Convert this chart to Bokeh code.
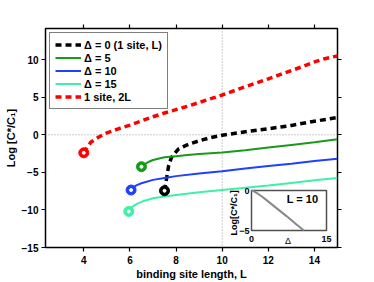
import math
from bokeh.plotting import figure
from bokeh.models import Range1d, LinearAxis, FixedTicker, Span, Legend, LegendItem, CustomJSTickFormatter
from bokeh.core.properties import value
from bokeh.embed import file_html
from bokeh.resources import INLINE

FONT = "Liberation Sans"

# ---- main axes ----
x_ticks = [4, 6, 8, 10, 12, 14]
y_ticks = [-15, -10, -5, 0, 5, 10]
x_label = "binding site length, L"
y_label = "Log [C*/C\u2081]"
ref_x = 10
ref_y = 0

# ---- series (binding site length L, log ratio) ----
L_d0 = [7.5, 7.6, 7.68, 7.8, 8.1, 8.55, 9.0, 9.4, 10, 11, 12, 13, 14, 15]
v_d0 = [-7.45, -5.6, -4.1, -3.0, -1.9, -1.24, -0.8, -0.45, -0.05, 0.4, 0.8, 1.25, 1.8, 2.3]

L_d5 = [6.5, 6.6, 6.7, 6.85, 7.0, 7.5, 8, 8.5, 9, 10, 11, 12, 13, 14, 15]
v_d5 = [-4.25, -4.0, -3.8, -3.55, -3.35, -3.0, -2.85, -2.7, -2.55, -2.35, -2.05, -1.7, -1.35, -1.0, -0.6]

L_d10 = [6.05, 6.15, 6.3, 6.5, 7.0, 7.5, 8, 9, 10, 11, 12, 13, 14, 15]
v_d10 = [-7.35, -6.95, -6.7, -6.45, -6.0, -5.75, -5.5, -5.15, -4.85, -4.5, -4.15, -3.85, -3.5, -3.2]

L_d15 = [5.95, 6.05, 6.3, 6.6, 7.0, 7.5, 8, 9, 10, 11, 12, 13, 14, 15]
v_d15 = [-10.2, -9.7, -9.2, -8.8, -8.45, -8.2, -8.0, -7.65, -7.35, -7.05, -6.75, -6.4, -6.05, -5.75]

L_2L = [4, 4.3, 4.65, 5, 5.5, 6, 6.5, 7, 7.5, 8, 8.5, 9, 10, 11, 12, 12.5, 13.5, 13.95, 14.4, 15]
v_2L = [-2.4, -1.0, -0.3, 0.25, 0.8, 1.3, 1.85, 2.4, 2.9, 3.35, 3.8, 4.3, 5.3, 6.4, 7.45, 8.0, 9.1, 9.65, 10.1, 10.5]

labels = ["\u0394 = 0 (1 site, L)", "\u0394 = 5", "\u0394 = 10", "\u0394 = 15", "1 site, 2L"]
colors = ["black", "#1a9a1a", "#2040ff", "#40f0a8", "#ff0000"]
dashed = [True, False, False, False, True]
xs = [L_d0, L_d5, L_d10, L_d15, L_2L]
ys = [v_d0, v_d5, v_d10, v_d15, v_2L]

# ---- inset (L = 10) ----
inset_title = "L = 10"
inset_delta = [0, 0.5, 1, 1.5, 2, 3, 5, 7, 9, 10.5]
inset_val = [0, -0.1, -0.3, -0.5, -0.72, -1.2, -2.2, -3.2, -4.25, -5.0]
inset_xticks = [0, 15]
inset_yticks = [0, -5]
inset_xlabel = "\u0394"
inset_ylabel = "Log[C*/C\u2081]"

p = figure(width=374, height=282, x_range=Range1d(2.34, 15), y_range=Range1d(-15, 14.15),
           output_backend="svg", toolbar_location=None,
           min_border_left=45, min_border_right=37, min_border_top=28, min_border_bottom=35,
           x_axis_label=x_label, y_axis_label=y_label)
p.xgrid.visible = False
p.ygrid.visible = False
p.outline_line_color = "black"
p.outline_line_width = 1.5
p.background_fill_color = "white"
p.border_fill_color = "white"

p.add_layout(LinearAxis(), "above")
p.add_layout(LinearAxis(), "right")

def style_axis(ax, ticks, show_labels):
    ax.ticker = FixedTicker(ticks=ticks)
    ax.minor_tick_line_color = None
    ax.major_tick_in = 0
    ax.major_tick_out = 4
    ax.major_tick_line_width = 1.2
    ax.axis_line_color = None
    ax.major_label_text_font = FONT
    ax.major_label_text_font_style = "bold"
    ax.major_label_text_color = "black"
    ax.major_label_text_font_size = "10px"
    if show_labels:
        ax.major_label_overrides = {t: str(t).replace("-", "\u2212") for t in ticks}
    else:
        ax.formatter = CustomJSTickFormatter(code="return ''")
        ax.major_label_standoff = 0
    ax.axis_label_text_font = FONT
    ax.axis_label_text_font_style = "bold"
    ax.axis_label_text_font_size = "11px"
    ax.axis_label_text_color = "black"

style_axis(p.below[0], x_ticks, True)
style_axis(p.left[0], y_ticks, True)
style_axis(p.above[0], x_ticks, False)
style_axis(p.right[0], y_ticks, False)
p.below[0].major_label_standoff = 4
p.below[0].axis_label_standoff = 1
p.left[0].major_label_standoff = 3
p.left[0].axis_label_standoff = 2

p.add_layout(Span(location=ref_x, dimension="height", line_color="#999999",
                  line_dash="1 2", line_width=1, level="underlay"))
p.add_layout(Span(location=ref_y, dimension="width", line_color="#999999",
                  line_dash="1 2", line_width=1, level="underlay"))

renderers = []
for x, y, c, d in zip(xs, ys, colors, dashed):
    if d:
        r = p.line(x, y, line_color=c, line_width=3.5, line_dash="6 4")
    else:
        r = p.line(x, y, line_color=c, line_width=2)
    renderers.append(r)
for x, y, c in zip(xs, ys, colors):
    p.scatter([x[0]], [y[0]], size=10, fill_color=c, line_color=c)
    p.scatter([x[0]], [y[0]], size=3, fill_color="white", line_color="white")

legend = Legend(items=[LegendItem(label=lab, renderers=[r]) for lab, r in zip(labels, renderers)],
                location="top_left")
legend.label_text_font = FONT
legend.label_text_font_style = "bold"
legend.label_text_font_size = "11px"
legend.label_text_color = "black"
legend.border_line_color = "black"
legend.border_line_width = 1.2
legend.background_fill_alpha = 1
legend.padding = 5
legend.margin = 4
legend.spacing = 0
legend.glyph_width = 26
legend.glyph_height = 13
legend.label_height = 13
legend.label_standoff = 3
p.add_layout(legend)

# inset coordinate system inside the main frame
p.extra_x_ranges = {"ix": Range1d(-41.2, 17.2)}
p.extra_y_ranges = {"iy": Range1d(-7.125, 20.25)}
p.quad(left=[inset_xticks[0]], right=[inset_xticks[-1]], bottom=[inset_yticks[-1]], top=[inset_yticks[0]],
       x_range_name="ix", y_range_name="iy", fill_color="white", line_color="#505050", line_width=1.5)
p.line(inset_delta, inset_val, x_range_name="ix", y_range_name="iy", line_color="#888888", line_width=2)
p.text(x=[inset_xticks[0]] * len(inset_yticks), y=inset_yticks, text=[str(t).replace("-", "\u2212") for t in inset_yticks],
       x_range_name="ix", y_range_name="iy", x_offset=-2, text_align="right", text_baseline="middle",
       text_font=value(FONT), text_font_style="bold", text_font_size="9px", text_color="black")
p.text(x=inset_xticks, y=[inset_yticks[-1]] * len(inset_xticks), text=[str(t) for t in inset_xticks],
       x_range_name="ix", y_range_name="iy", y_offset=5, text_align="center", text_baseline="top",
       text_font=value(FONT), text_font_style="bold", text_font_size="9px", text_color="black")
p.text(x=[7.3], y=[inset_yticks[-1]], text=[inset_xlabel], x_range_name="ix", y_range_name="iy",
       y_offset=5, text_align="center", text_baseline="top",
       text_font=value(FONT), text_font_size="9px", text_color="black")
p.text(x=[inset_xticks[0]], y=[-2.8], text=[inset_ylabel], x_range_name="ix", y_range_name="iy",
       x_offset=-18, angle=math.pi / 2, text_align="center", text_baseline="middle",
       text_font=value(FONT), text_font_style="bold", text_font_size="9px", text_color="black")
p.text(x=[10.2], y=[-1.1], text=[inset_title], x_range_name="ix", y_range_name="iy",
       text_align="center", text_baseline="middle",
       text_font=value(FONT), text_font_style="bold", text_font_size="11px", text_color="black")

open("out.html", "w").write(file_html(p, INLINE))
